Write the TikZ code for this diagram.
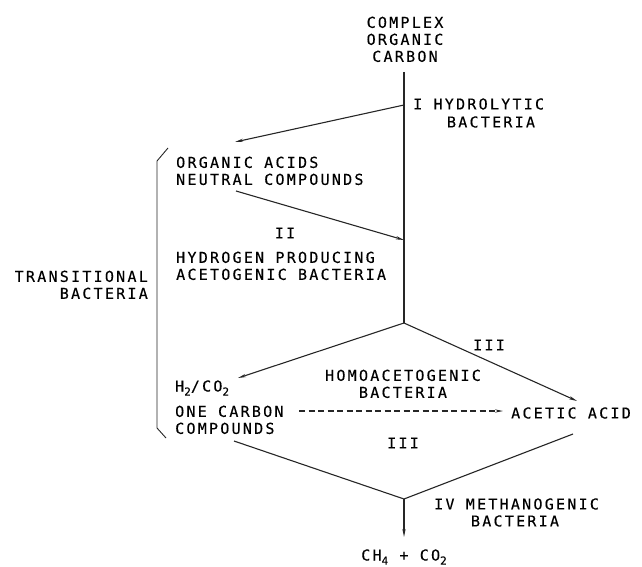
\documentclass[tikz,border=0pt]{standalone}
\usepackage{fontspec}
\usetikzlibrary{arrows.meta}
\newfontfamily\plotfont[LetterSpace=15,FakeBold=0.3]{DejaVu Sans Mono}
\newcommand{\mysub}[1]{\raisebox{-0.5ex}{\fontsize{11}{11}\selectfont #1}}
\begin{document}
\begin{tikzpicture}[x=1pt,y=-1pt,
  lbl/.style={inner sep=0pt,font=\plotfont\fontsize{15}{17}\selectfont},
  flow/.style={line width=1.1pt,draw=black!85},
  arr/.style={flow,-{Stealth[length=8pt,width=3.2pt]}},
  dsh/.style={arr,dash pattern=on 6pt off 3.5pt}]
\useasboundingbox (0,0) rectangle (642,567);
% coordinates of junctions
\coordinate (ctop) at (404,72);
\coordinate (cbr1) at (404,105);
\coordinate (ctip1) at (235,142);
\coordinate (cst2) at (236,191);
\coordinate (cend2) at (404,240);
\coordinate (dtop) at (404,323);
\coordinate (dleft) at (238,378);
\coordinate (dright) at (577,401);
\coordinate (lleft) at (234,441);
\coordinate (lright) at (573,434);
\coordinate (lbot) at (404,499);
\coordinate (pend) at (404,537);
\coordinate (dshs) at (299,411);
\coordinate (dshe) at (503,411);
\coordinate (brA) at (168,148);
\coordinate (brB) at (157,161);
\coordinate (brC) at (157,428);
\coordinate (brD) at (166,438);
% texts
\node[lbl,align=center,anchor=north] (coc) at (405,16.5) {COMPLEX\\ORGANIC\\CARBON};
\node[lbl,anchor=west] (hyd) at (413,104) {I HYDROLYTIC};
\node[lbl] (hydb) at (491,122) {BACTERIA};
\node[lbl,align=left,anchor=north west] (oan) at (176,156.5) {ORGANIC ACIDS\\NEUTRAL COMPOUNDS};
\node[lbl] (two) at (285,233) {II};
\node[lbl,align=left,anchor=north west] (hpa) at (176,251.5) {HYDROGEN PRODUCING\\ACETOGENIC BACTERIA};
\node[lbl,align=right,anchor=north east] (trb) at (148,270.5) {TRANSITIONAL\\BACTERIA};
\node[lbl] (three1) at (489,345) {III};
\node[lbl,align=center,anchor=north] (homo) at (403,369.5) {HOMOACETOGENIC\\BACTERIA};
\node[lbl,anchor=west] (hco) at (175,388) {H\mysub{2}/CO\mysub{2}};
\node[lbl,align=left,anchor=north west] (one) at (175,405.5) {ONE CARBON\\COMPOUNDS};
\node[lbl,anchor=west] (acet) at (511,413) {ACETIC ACID};
\node[lbl] (three2) at (403,443) {III};
\node[lbl,anchor=west] (meth) at (434,504) {IV METHANOGENIC};
\node[lbl] (methb) at (515,521) {BACTERIA};
\node[lbl] (prod) at (404,557) {CH\mysub{4} + CO\mysub{2}};
% connectors
\draw[flow] (ctop) -- (dtop);
\draw[arr] (cbr1) -- (ctip1);
\draw[arr] (cst2) -- (cend2);
\draw[arr] (dtop) -- (dleft);
\draw[arr] (dtop) -- (dright);
\draw[dsh] (dshs) -- (dshe);
\draw[flow] (lleft) -- (lbot) -- (lright);
\draw[arr] (lbot) -- (pend);
\draw[flow,line width=0.9pt] (brA) -- (brB) -- (brC) -- (brD);
\end{tikzpicture}
\end{document}
